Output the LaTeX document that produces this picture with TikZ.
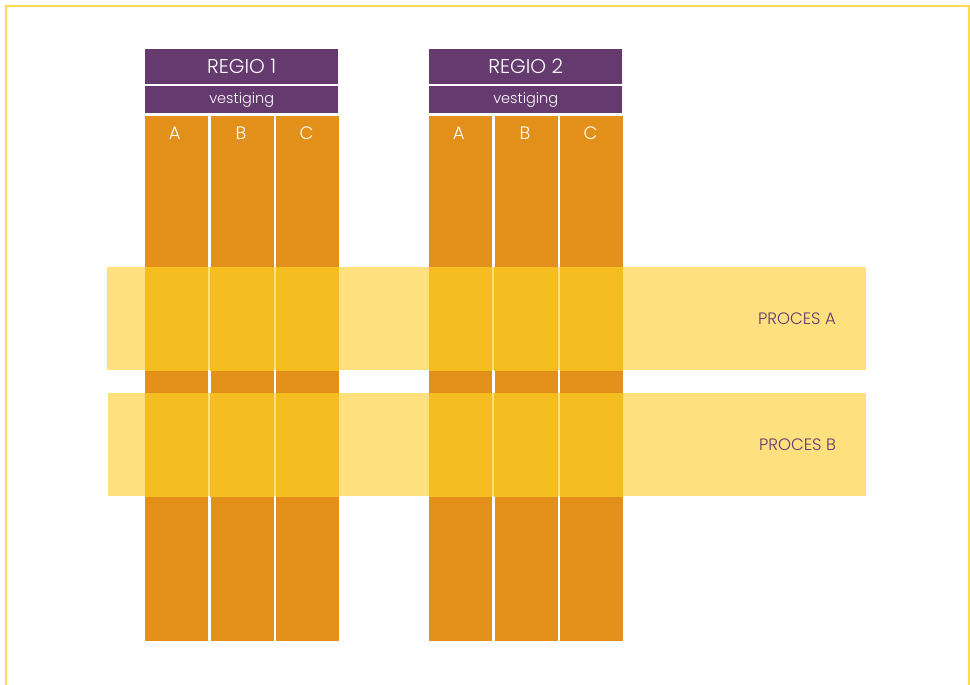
\documentclass[tikz,border=0pt]{standalone}
\usepackage{fontspec}
\setmainfont{Poppins}[UprightFont=* Light]
\usetikzlibrary{positioning}
\definecolor{paars}{HTML}{643A6F}
\definecolor{oranje}{HTML}{E3901A}
\definecolor{geel}{HTML}{FEE07E}
\definecolor{goud}{HTML}{F5BD20}
\definecolor{rand}{HTML}{FFD94F}

\begin{document}
\begin{tikzpicture}[x=1pt,y=-1pt,node distance=2pt and 2pt,
 kop/.style={fill=paars,text=white,inner sep=0pt,minimum width=193pt,minimum height=35pt,font=\fontsize{20}{22}\selectfont},
 sub/.style={fill=paars,text=white,inner sep=0pt,minimum width=193pt,minimum height=27pt,font=\fontsize{14.5}{16}\selectfont},
 kolom/.style={fill=oranje,inner sep=0pt,minimum width=63pt,minimum height=525pt},
 letter/.style={text=white,font=\fontsize{18}{20}\selectfont},
 band/.style={fill=geel,inner sep=0pt,minimum height=103pt},
 proces/.style={text=paars,font=\fontsize{16.5}{19}\selectfont}]
\useasboundingbox (0,0) rectangle (970,685);
% open frame around the sheet
\draw[rand,line width=2pt] (5.5,685) -- (5.5,6) -- (968.5,6) -- (968.5,685);

% two regions, each with three locations
\foreach \r/\x in {1/145,2/429}{
  \node[kop,anchor=north west] (regio\r) at (\x,49) {REGIO \r};
  \node[sub,below=1.5pt of regio\r] (vest\r) {vestiging};
  \node[kolom,below right=2pt and 0pt of vest\r.south west,
    label={[letter,anchor=north,xshift=-2pt,yshift=-8pt]north:A}] (kol\r a) {};
  \node[kolom,right=2pt of kol\r a,
    label={[letter,anchor=north,xshift=-1pt,yshift=-8pt]north:B}] (kol\r b) {};
  \node[kolom,right=2pt of kol\r b,
    label={[letter,anchor=north,xshift=-1pt,yshift=-8pt]north:C}] (kol\r c) {};
}

% processes running across the regions
\node[band,minimum width=759pt,anchor=north west] (procA) at (107,267) {};
\node[band,minimum width=758pt,anchor=north west] (procB) at (108,393) {};
\foreach \p in {A,B}{
  \begin{scope}
    \clip (proc\p.north west) rectangle (proc\p.south east);
    \foreach \k in {1a,1b,1c,2a,2b,2c}
      \fill[goud] (kol\k.north west) rectangle (kol\k.south east);
  \end{scope}
  \node[proces,anchor=east] at ([xshift=-27pt]proc\p.east) {PROCES \p};
}
\end{tikzpicture}
\end{document}
